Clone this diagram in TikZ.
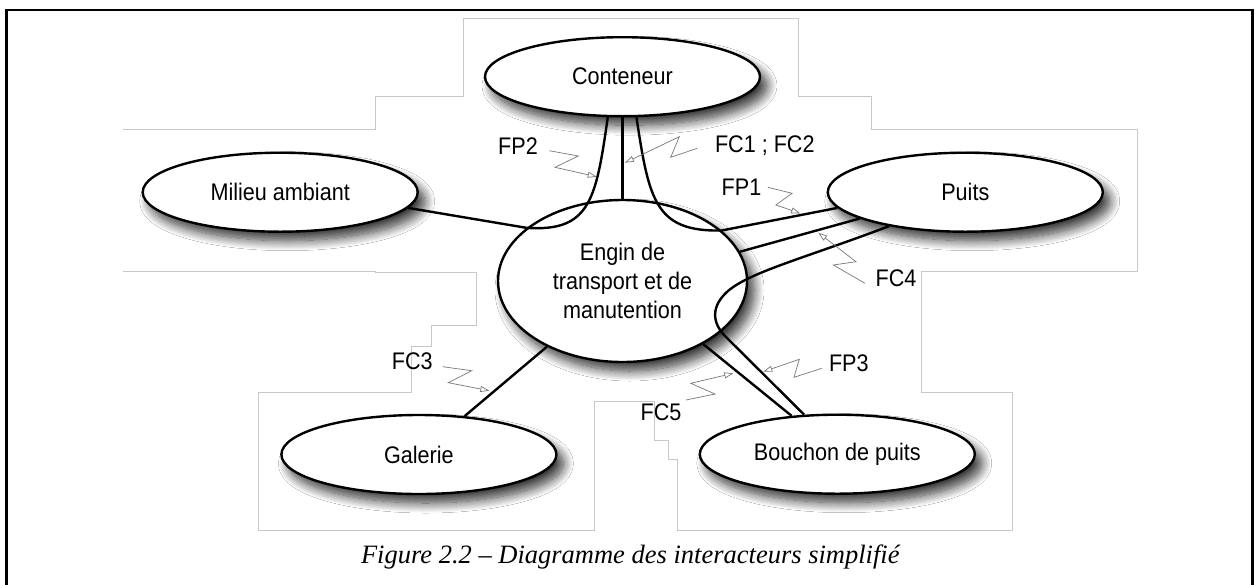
\documentclass[tikz,border=0pt]{standalone}
\usepackage{fontspec}
\setmainfont{Liberation Serif}
\newfontfamily\lsans[FakeStretch=0.9]{Liberation Sans}
\usetikzlibrary{shapes.geometric,arrows.meta,shadows.blur}
\definecolor{boxgray}{RGB}{200,200,200}
\definecolor{boltgray}{RGB}{120,120,120}
\tikzset{
  actor/.style={ellipse, draw=black, line width=2.4pt, fill=white, inner sep=0pt,
    minimum width=275pt, minimum height=79pt, align=center,
    font=\lsans\fontsize{24}{29}\selectfont,
    blur shadow={shadow xshift=7pt, shadow yshift=-9pt, shadow blur radius=10pt, shadow blur steps=14, shadow opacity=80}},
  centre/.style={actor, minimum width=249pt, minimum height=162pt},
  link/.style={line width=2.4pt, draw=black},
  bolt/.style={draw=boltgray, line width=0.7pt, -{Triangle[length=9pt,width=6pt,fill=white]}},
  lbl/.style={anchor=base, inner sep=0pt, font=\lsans\fontsize{24}{29}\selectfont},
  outline/.style={draw=boxgray, line width=0.9pt}
}
\begin{document}
\begin{tikzpicture}[x=1pt,y=-1pt]
\useasboundingbox (0,0) rectangle (1255,584);
\fill[white] (0,0) rectangle (1255,584);
% light grey outline
\draw[outline] (122.5,129) -- (375,129) -- (375,96.7) -- (463,96.7) -- (463,18.3)
  -- (798.2,18.3) -- (798.2,96.7) -- (871.1,96.7) -- (871.1,129) -- (1137.6,129)
  -- (1137.6,271) -- (921.7,271) -- (921.7,392.3) -- (1012.9,392.3) -- (1012.9,530)
  -- (677.5,530) -- (677.5,459.3) -- (668.6,459.3) -- (668.6,440) -- (654.4,440)
  -- (654.4,401.7) -- (594.6,401.7) -- (594.6,530) -- (258.3,530) -- (258.3,392.3)
  -- (411.8,392.3) -- (411.8,346) -- (431.7,346) -- (431.7,325) -- (476,325)
  -- (476,272.7) -- (375,272.7) -- (375,271.7) -- (122.5,271.7);
% frame
\draw[line width=2.5pt] (6.7,600) -- (6.7,10) -- (1252.5,10) -- (1252.5,600);
% nodes
\node[actor]  (conteneur) at (622.5,76.7)  {Conteneur};
\node[actor]  (milieu)    at (280.2,192.2) {Milieu ambiant};
\node[actor]  (puits)     at (965.3,192.2) {Puits};
\node[actor]  (galerie)   at (418.9,454.5) {Galerie};
\node[actor]  (bouchon)   at (837.3,454.2) {Bouchon de puits};
\node[centre] (engin)     at (622.5,281)   {Engin de\\transport et de\\manutention};
% connectors
\draw[link] (milieu.-7) -- (engin.151.6);
\draw[link] (conteneur.south) -- (engin.north);
\draw[link] (conteneur.250.4) .. controls (596,200) and (590,232) .. (engin.151.6);
\draw[link] (conteneur.289.6) .. controls (649,200) and (655,232) .. (engin.27.3);
\draw[link] (engin.27.3) -- (puits.187.8);
\draw[link] (engin.14.7) -- (puits.194.8);
\draw[link] (puits.204.6) .. controls (805,258) and (750,272) .. (728,291)
  .. controls (712,305) and (710,322) .. (727,338) -- (bouchon.130);
\draw[link] (engin.-38.9) -- (bouchon.140.4);
\draw[link] (engin.221) -- (galerie.40);
% labels
\node[lbl] (lfp2) at (518,154) {FP2};
\node[lbl] (lfc12) at (764.8,152.7) {FC1 ; FC2};
\node[lbl] (lfp1) at (741.5,195) {FP1};
\node[lbl] (lfc4) at (896,286.7) {FC4};
\node[lbl] (lfp3) at (848.8,371.7) {FP3};
\node[lbl] (lfc5) at (661,420.7) {FC5};
\node[lbl] (lfc3) at (412.3,369) {FC3};
% lightning arrows
\draw[bolt] (549.3,150.7) -- (578.3,156) -- (555,167.3) -- (596.7,176.7);
\draw[bolt] (697.3,148.3) -- (670.7,157.3) -- (679.3,136.7) -- (625,162.7);
\draw[bolt] (767.8,187.3) -- (792.1,193.3) -- (775.9,205) -- (800.2,213.3);
\draw[bolt] (865,283.3) -- (833.3,265) -- (856,261.7) -- (818.3,232.7);
\draw[bolt] (821.7,368.3) -- (794,377.3) -- (799.3,359.3) -- (763.3,371.7);
\draw[bolt] (686,400) -- (715,394) -- (690.7,383.3) -- (733.3,373.3);
\draw[bolt] (442.7,366.7) -- (471.7,370.7) -- (448.3,382.7) -- (489.3,390.7);
% caption
\node[anchor=base, inner sep=0pt, font=\itshape\fontsize{26.5}{30}\selectfont] (caption) at (630.3,563)
  {Figure 2.2 – Diagramme des interacteurs simplifié};
\end{tikzpicture}
\end{document}
